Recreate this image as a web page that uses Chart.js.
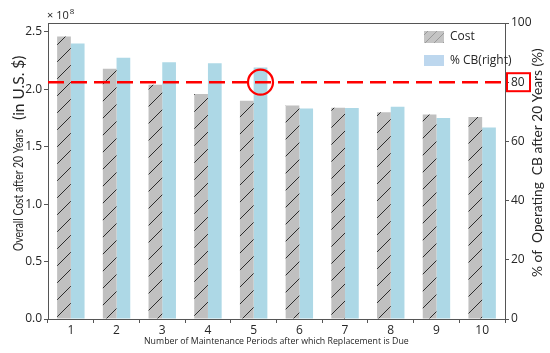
<!DOCTYPE html>
<html><head><meta charset="utf-8">
<script src="https://cdn.jsdelivr.net/npm/chart.js@4.4.1/dist/chart.umd.min.js"></script>
<style>html,body{margin:0;padding:0;background:#fff;} canvas{display:block;}</style>
</head><body>
<canvas id="c" width="550" height="353"></canvas>
<script>
const categories = ['1','2','3','4','5','6','7','8','9','10'];
const costValues = [2.46e8, 2.18e8, 2.04e8, 1.96e8, 1.90e8, 1.86e8, 1.84e8, 1.80e8, 1.78e8, 1.76e8];
const cbValues = [93.1, 88.3, 86.7, 86.4, 85.0, 71.1, 71.3, 71.7, 67.9, 64.7];
const costTicks = [0, 0.5e8, 1.0e8, 1.5e8, 2.0e8, 2.5e8];
const cbTicks = [0, 20, 40, 60, 80, 100];
const costMax = 2.578e8;
const cbMax = 100;
const thresholdPct = 80;
const highlightIndex = 4;
const seriesNames = ['Cost', '% CB(right)'];
const xTitle = 'Number of Maintenance Periods after which Replacement is Due';
const yTitleA = 'Overall Cost after 20 Years';
const yTitleB = '(in U.S. $)';
const y2Title = '% of  Operating  CB after 20 Years (%)';

const FONT = '"Open Sans", "Noto Sans", sans-serif';
const TFONT = 'Lato, "Open Sans", sans-serif';
const TXT = '#262626';
const AX = '#555';
const GREY = '#c0c0c0';
const BLUE = '#add8e6';

function makeHatch(size, bg, fg){
  const c = document.createElement('canvas'); c.width = size; c.height = size;
  const g = c.getContext('2d');
  g.fillStyle = bg; g.fillRect(0,0,size,size);
  g.strokeStyle = fg; g.lineWidth = 1;
  g.beginPath();
  g.moveTo(0,size); g.lineTo(size,0);
  g.moveTo(-2,2); g.lineTo(2,-2);
  g.moveTo(size-2,size+2); g.lineTo(size+2,size-2);
  g.stroke();
  return g.createPattern(c,'repeat');
}
const hatch = makeHatch(17, GREY, '#2b2b2b');

function fitFont(ctx, text, width, fam){
  ctx.font = '20px ' + fam;
  const w = ctx.measureText(text).width;
  const size = 20 * width / w;
  ctx.font = size.toFixed(2) + 'px ' + fam;
  return size;
}
// draw text at a given font size, squeezed horizontally to a target length
function squeezeText(ctx, text, x, size, width, fam){
  ctx.font = size + 'px ' + fam;
  const w = ctx.measureText(text).width;
  const k = Math.min(1, width / w);
  ctx.save();
  ctx.translate(x, 0); ctx.scale(k, 1);
  ctx.fillText(text, 0, 0);
  ctx.restore();
}

const overlay = {
  id: 'overlay',
  afterDatasetsDraw(chart){
    const ctx = chart.ctx, a = chart.chartArea;
    const y2 = chart.scales.y2;
    const yT = y2.getPixelForValue(thresholdPct);
    ctx.save();
    ctx.strokeStyle = AX; ctx.lineWidth = 1;
    ctx.beginPath(); ctx.moveTo(a.left, a.top+0.5); ctx.lineTo(a.right, a.top+0.5); ctx.stroke();
    ctx.strokeStyle = '#ff0000'; ctx.lineWidth = 2.6; ctx.setLineDash([16,7]);
    ctx.beginPath(); ctx.moveTo(a.left, yT); ctx.lineTo(a.right, yT); ctx.stroke();
    ctx.setLineDash([]);
    const el = chart.getDatasetMeta(1).data[highlightIndex];
    ctx.lineWidth = 2.2;
    ctx.beginPath(); ctx.arc(el.x, yT, 12.5, 0, Math.PI*2); ctx.stroke();
    ctx.lineWidth = 2;
    ctx.strokeRect(a.right + 2, yT - 9, 23, 18);
    ctx.restore();
  },
  afterDraw(chart){
    const ctx = chart.ctx, a = chart.chartArea;
    ctx.save();
    ctx.fillStyle = makeHatch(9, '#c4c4c4', '#9a9a9a');
    ctx.fillRect(424, 31, 20, 12);
    ctx.fillStyle = '#bdd7ee';
    ctx.fillRect(424, 55, 20, 11);
    ctx.fillStyle = TXT; ctx.font = '12px ' + FONT; ctx.textBaseline = 'middle'; ctx.textAlign = 'left';
    ctx.fillText(seriesNames[0], 450, 37);
    ctx.fillText(seriesNames[1], 450, 60.5);
    ctx.font = '11px ' + FONT; ctx.textBaseline = 'alphabetic';
    ctx.fillText('\u00d7 10', 47, 19);
    const w = ctx.measureText('\u00d7 10').width;
    ctx.font = '8px ' + FONT;
    ctx.fillText('8', 47 + w + 1, 14);
    // x title
    fitFont(ctx, xTitle, 265, FONT);
    ctx.textAlign = 'left'; ctx.textBaseline = 'middle';
    ctx.fillText(xTitle, 144, 341);
    // left title
    ctx.save();
    ctx.translate(19, 251); ctx.rotate(-Math.PI/2);
    ctx.textAlign = 'left'; ctx.textBaseline = 'middle';
    squeezeText(ctx, yTitleA, 0, 13, 122, TFONT);
    squeezeText(ctx, yTitleB, 131, 15.5, 67, TFONT);
    ctx.restore();
    // right title
    ctx.save();
    ctx.translate(538, 277); ctx.rotate(-Math.PI/2);
    ctx.textAlign = 'left'; ctx.textBaseline = 'middle';
    fitFont(ctx, y2Title, 229, TFONT);
    ctx.fillText(y2Title, 0, 0);
    ctx.restore();
    ctx.restore();
  }
};

new Chart(document.getElementById('c'), {
  type: 'bar',
  data: {
    labels: categories,
    datasets: [
      { label: seriesNames[0], data: costValues, yAxisID: 'y', backgroundColor: hatch, borderWidth: 0,
        categoryPercentage: 0.6, barPercentage: 1.0 },
      { label: seriesNames[1], data: cbValues, yAxisID: 'y2', backgroundColor: BLUE, borderWidth: 0,
        categoryPercentage: 0.6, barPercentage: 1.0 }
    ]
  },
  options: {
    responsive: false, animation: false, devicePixelRatio: 1,
    layout: { padding: { top: 23, left: 0, right: 0, bottom: 0 } },
    plugins: { legend: { display: false }, tooltip: { enabled: false } },
    scales: {
      x: {
        offset: true,
        grid: { display: true, drawOnChartArea: false, drawTicks: true, tickLength: 4, color: AX },
        border: { display: true, color: AX, width: 1 },
        ticks: { color: TXT, font: { family: FONT, size: 12 }, padding: 0, maxRotation: 0 },
        afterFit(s){ s.height = 34; }
      },
      y: {
        position: 'left', min: 0, max: costMax,
        afterBuildTicks(s){ s.ticks = costTicks.map(v => ({ value: v })); },
        grid: { display: true, drawOnChartArea: false, drawTicks: true, tickLength: 4, color: AX },
        border: { display: true, color: AX, width: 1 },
        ticks: { color: TXT, font: { family: FONT, size: 12 }, padding: 2,
          callback: v => (v / 1e8).toFixed(1) },
        afterFit(s){ s.width = 48; }
      },
      y2: {
        position: 'right', min: 0, max: cbMax,
        afterBuildTicks(s){ s.ticks = cbTicks.map(v => ({ value: v })); },
        grid: { display: true, drawOnChartArea: false, drawTicks: true, tickLength: 4, color: AX },
        border: { display: true, color: AX, width: 1 },
        ticks: { color: TXT, font: { family: FONT, size: 12 }, padding: 2 },
        afterFit(s){ s.width = 45; }
      }
    }
  },
  plugins: [overlay]
});
</script>
</body></html>
